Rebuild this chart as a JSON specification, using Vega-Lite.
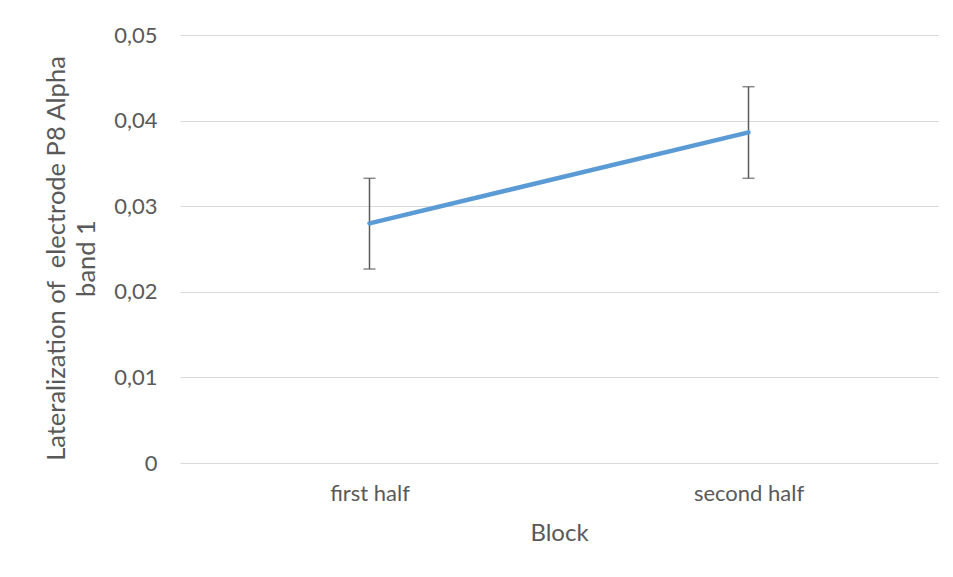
{
  "$schema": "https://vega.github.io/schema/vega-lite/v6.json",
  "width": 758,
  "height": 428,
  "autosize": {"type": "none"},
  "padding": {"left": 180, "top": 35, "right": 15, "bottom": 114},
  "background": "white",
  "config": {
    "view": {"stroke": null},
    "font": "Lato",
    "axis": {"labelFont": "Lato", "titleFont": "Lato", "labelColor": "#595959", "titleColor": "#595959", "titleFontWeight": "normal"}
  },
  "data": {
    "values": [
      {"block": "first half", "mean": 0.0280, "lo": 0.02266, "hi": 0.03326},
      {"block": "second half", "mean": 0.03863, "lo": 0.03326, "hi": 0.04396}
    ]
  },
  "encoding": {
    "x": {
      "field": "block", "type": "ordinal",
      "scale": {"type": "point", "padding": 0.5},
      "axis": {"title": "Block", "labelAngle": 0, "labelFontSize": 22, "titleFontSize": 24, "ticks": false, "domain": false, "labelPadding": 20, "titlePadding": 17, "grid": false}
    }
  },
  "layer": [
    {
      "mark": {"type": "rule", "color": "#595959", "strokeWidth": 1.5},
      "encoding": {
        "y": {"field": "lo", "type": "quantitative",
          "scale": {"domain": [0, 0.05]},
          "axis": {
            "title": ["Lateralization of \u00a0electrode P8 Alpha", "band 1"],
            "values": [0, 0.01, 0.02, 0.03, 0.04, 0.05],
            "labelExpr": "datum.value == 0 ? '0' : replace(format(datum.value, '.2f'), '.', ',')",
            "labelFontSize": 22, "titleFontSize": 25.5, "ticks": false, "domain": false,
            "labelPadding": 23, "titlePadding": 14, "titleY": 223, "gridColor": "#D9D9D9", "gridWidth": 1.2, "titleLineHeight": 30
          }
        },
        "y2": {"field": "hi"}
      }
    },
    {
      "mark": {"type": "tick", "color": "#595959", "thickness": 1.5, "size": 12, "orient": "horizontal"},
      "encoding": {"y": {"field": "lo", "type": "quantitative"}}
    },
    {
      "mark": {"type": "tick", "color": "#595959", "thickness": 1.5, "size": 12, "orient": "horizontal"},
      "encoding": {"y": {"field": "hi", "type": "quantitative"}}
    },
    {
      "mark": {"type": "line", "color": "#5B9BD5", "strokeWidth": 4.5, "strokeCap": "round"},
      "encoding": {"y": {"field": "mean", "type": "quantitative"}}
    }
  ]
}
